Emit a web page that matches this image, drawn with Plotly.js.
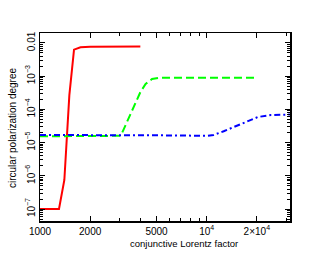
<!DOCTYPE html>
<html>
<head>
<meta charset="utf-8">
<script src="https://cdn.plot.ly/plotly-3.0.1.min.js"></script>
<style>html,body{margin:0;padding:0;background:#fff;}#chart{width:330px;height:255px;}</style>
</head>
<body>
<div id="chart"></div>
<script>
// Red solid curve
const redX = [1000, 1300, 1400, 1500, 1600, 1750, 2000, 3000, 4000];
const redY = [1e-7, 1e-7, 7.5e-7, 2.7e-4, 6.3e-3, 7.4e-3, 7.7e-3, 7.8e-3, 7.8e-3];
// Green dashed curve
const greenX = [1000, 2000, 3000, 3100, 3500, 4000, 4300, 4700, 5200, 7000, 10000, 20000];
const greenY = [1.55e-5, 1.55e-5, 1.6e-5, 1.9e-5, 7.2e-5, 3.3e-4, 5.8e-4, 8.2e-4, 9.0e-4, 9.1e-4, 9.0e-4, 8.9e-4];
// Blue dash-dot curve
const blueX = [1000, 3000, 6000, 10000, 11000, 12650, 16000, 18400, 20300, 24300, 31600];
const blueY = [1.7e-5, 1.7e-5, 1.65e-5, 1.6e-5, 1.7e-5, 2.2e-5, 3.6e-5, 4.8e-5, 5.9e-5, 6.8e-5, 7.0e-5];

const xTickVals = [1000, 2000, 5000, 10000, 20000];
const xTickText = ['1000', '2000', '5000', '10<sup>4</sup>', '2×10<sup>4</sup>'];
const yTickVals = [1e-7, 1e-6, 1e-5, 1e-4, 1e-3, 1e-2];
const yTickText = ['10<sup>−7</sup>', '10<sup>−6</sup>', '10<sup>−5</sup>', '10<sup>−4</sup>', '10<sup>−3</sup>', '0.01'];

function minorLog(lo, hi) {
  const out = [];
  for (let e = lo; e <= hi; e++) for (let m = 2; m <= 9; m++) out.push(m * Math.pow(10, e));
  return out;
}

const font = {family: 'Liberation Sans, Arial, sans-serif', size: 10, color: '#000'};
const titleFont = {family: 'Liberation Sans, Arial, sans-serif', size: 9.5, color: '#000'};

const traces = [
  {x: redX, y: redY, mode: 'lines', line: {color: '#ff0000', width: 2}, type: 'scatter'},
  {x: greenX, y: greenY, mode: 'lines', line: {color: '#00ff00', width: 2, dash: '8px,4px'}, type: 'scatter'},
  {x: blueX, y: blueY, mode: 'lines', line: {color: '#0000ff', width: 2, dash: '6px,3px,2px,3px'}, type: 'scatter'}
];

const axisCommon = {
  type: 'log', showgrid: false, zeroline: false, showline: true, linecolor: '#000', linewidth: 1.5,
  mirror: 'ticks', ticks: 'inside', ticklen: 5, tickwidth: 1, tickcolor: '#000', tickmode: 'array',
  tickfont: font
};

const layout = {
  width: 330, height: 255,
  margin: {l: 40, r: 40, t: 33, b: 34},
  paper_bgcolor: '#fff', plot_bgcolor: '#fff',
  showlegend: false,
  font: font,
  xaxis: Object.assign({}, axisCommon, {
    range: [3, 4.5], tickvals: xTickVals, ticktext: xTickText,
    minor: {ticks: 'inside', ticklen: 3, tickcolor: '#000', tickmode: 'array', tickvals: minorLog(3, 4)}
  }),
  yaxis: Object.assign({}, axisCommon, {
    range: [-7.36, -1.70], tickvals: yTickVals, ticktext: yTickText, tickangle: -90,
    minor: {ticks: 'inside', ticklen: 3, tickcolor: '#000', tickmode: 'array', tickvals: minorLog(-8, -2)}
  }),
  annotations: [
    {text: 'conjunctive Lorentz factor', xref: 'paper', yref: 'paper', x: (184 - 40) / 250, y: -(243 - 221) / 188,
     xanchor: 'center', yanchor: 'middle', showarrow: false, font: titleFont},
    {text: 'circular polarization degree', xref: 'paper', yref: 'paper', x: (12 - 40) / 250, y: 1 - (128 - 33) / 188,
     xanchor: 'center', yanchor: 'middle', textangle: -90, showarrow: false, font: font}
  ]
};

Plotly.newPlot('chart', traces, layout, {staticPlot: true, displayModeBar: false});
</script>
</body>
</html>
